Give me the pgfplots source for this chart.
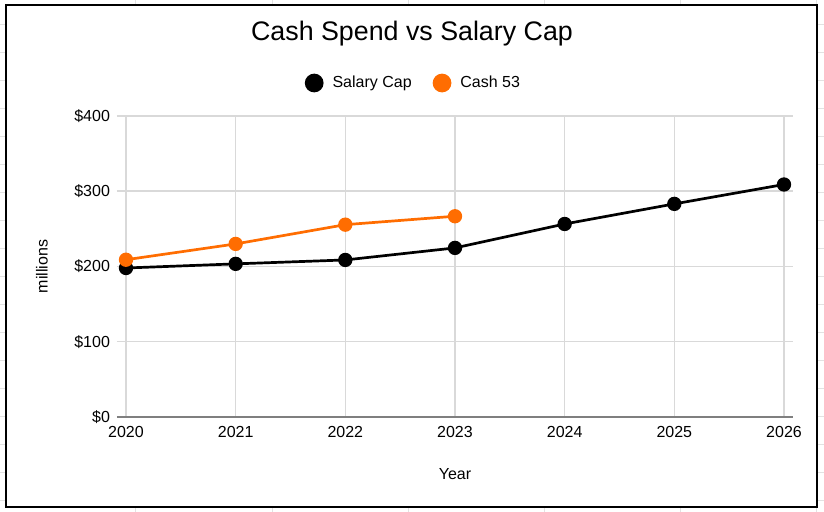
\documentclass[border=0pt]{standalone}
\usepackage{fontspec}
\setmainfont{Liberation Sans}
\usepackage{pgfplots}
\pgfplotsset{compat=1.18}
\definecolor{cashor}{HTML}{FF6D01}
\definecolor{gridc}{HTML}{D9D9D9}
\definecolor{basec}{HTML}{7F7F7F}
\definecolor{sheet}{HTML}{E2E2E2}
\begin{document}
\begin{tikzpicture}
\useasboundingbox (-58.5pt,-47.5pt) rectangle (353.5pt,208.5pt);
% spreadsheet cell lines around the chart
\foreach \c in {136,272,408,544,680,816} {
  \draw[sheet, line width=0.5pt] ({(\c-117)*0.5pt},208.5pt) -- ({(\c-117)*0.5pt},205.85pt);
  \draw[sheet, line width=0.5pt] ({(\c-117)*0.5pt},-47.5pt) -- ({(\c-117)*0.5pt},-45.15pt);
}
\foreach \r in {25,53,81,109,137,165,193,221,249,277,305,333,361,389,417,445,473,501} {
  \draw[sheet, line width=0.5pt] (-58.5pt,{(417-\r)*0.5pt}) -- (-55.35pt,{(417-\r)*0.5pt});
  \draw[sheet, line width=0.5pt] (350pt,{(417-\r)*0.5pt}) -- (353.5pt,{(417-\r)*0.5pt});
}
\draw[black, line width=1pt] (-55.35pt,-45.15pt) rectangle (350pt,205.85pt);
\begin{axis}[
  at={(0pt,0pt)}, anchor=south west,
  scale only axis, width=338pt, height=150.5pt,
  xmin=2019.918, xmax=2026.082, ymin=0, ymax=400,
  clip=false,
  axis line style={draw=none},
  major tick length=0pt,
  xtick={2020,2021,2022,2023,2024,2025,2026},
  xticklabels={2020,2021,2022,2023,2024,2025,2026},
  ytick={100,200,300,400},
  yticklabels={\$100,\$200,\$300,\$400},
  extra y ticks={0},
  extra y tick labels={\$0},
  extra y tick style={grid style={basec, line width=1.3pt}},
  grid=major,
  grid style={gridc, line width=0.75pt},
  tick label style={font=\fontsize{8}{9.6}\selectfont},
  xticklabel style={yshift=-1pt},
  title={Cash Spend vs Salary Cap},
  title style={at={(axis description cs:0.4364,1.2326)}, anchor=center, font=\fontsize{13.4}{16}\selectfont},
  xlabel={Year},
  xlabel style={at={(axis description cs:0.5,-0.1894)}, anchor=center, font=\fontsize{8}{9.6}\selectfont},
  ylabel={millions},
  ylabel style={at={(axis description cs:-0.111,0.5)}, anchor=center, font=\fontsize{8}{9.6}\selectfont},
  legend columns=2,
  legend style={draw=none, fill=none, at={(axis description cs:0.440,1.1096)}, anchor=center,
    font=\fontsize{8}{9.6}\selectfont,
    /tikz/every odd column/.append style={column sep=2.5pt},
    /tikz/every even column/.append style={column sep=8.5pt}},
  legend image code/.code={\fill[#1] (0pt,0pt) circle (4pt);},
]
\addplot[black, line width=1.35pt, mark=*, mark size=2.9pt, mark options={solid}]
  coordinates {(2020,198) (2021,203.5) (2022,208.7) (2023,224.7) (2024,256.5) (2025,283.2) (2026,309)};
\addplot[cashor, line width=1.35pt, mark=*, mark size=2.9pt, mark options={solid}]
  coordinates {(2020,209) (2021,230) (2022,255.6) (2023,266.8)};
\legend{Salary Cap, Cash 53}
\end{axis}
\end{tikzpicture}
\end{document}
